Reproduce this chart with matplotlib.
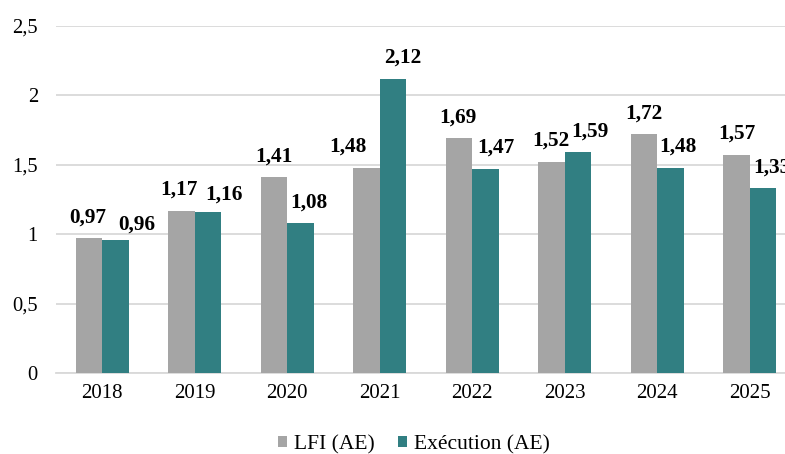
import matplotlib
matplotlib.use("Agg")
import matplotlib.pyplot as plt
import numpy as np

years = ["2018", "2019", "2020", "2021", "2022", "2023", "2024", "2025"]
lfi = [0.97, 1.17, 1.41, 1.48, 1.69, 1.52, 1.72, 1.57]
execution = [0.96, 1.16, 1.08, 2.12, 1.47, 1.59, 1.48, 1.33]
yticks = [0, 0.5, 1, 1.5, 2, 2.5]
ytick_labels = ["0", "0,5", "1", "1,5", "2", "2,5"]

# label nudges in pixels (layout only)
lfi_dx = [-1, -3, 0, -19, -1, -1, 0, 0]
exe_dx = [21, 16, 8, 10, 10, 12, 8, 9]
exe_dy = [-6, -4, 0, 0, 0, 0, 0, 0]

plt.rcParams['font.family'] = ['Liberation Serif', 'DejaVu Serif']

W, H = 785, 454
DPI = 100
fig = plt.figure(figsize=(W/DPI, H/DPI), dpi=DPI)
left, right, top, bottom = 56, 796, 26, 373
ax = fig.add_axes([left/W, 1-bottom/H, (right-left)/W, (bottom-top)/H])

x = np.arange(len(years))
bw = 0.285
gray = "#A5A5A5"
teal = "#317F82"
b1 = ax.bar(x - bw/2, lfi, bw, color=gray, label="LFI (AE)", zorder=3)
b2 = ax.bar(x + bw/2, execution, bw, color=teal, label="Exécution (AE)", zorder=3)

def fmt(v):
    return f"{v:.2f}".replace(".", ",")

px2pt = 72 / DPI
base_gap = 16
for bars, vals, dxs, dys in ((b1, lfi, lfi_dx, [0]*8), (b2, execution, exe_dx, exe_dy)):
    for b, v, dx, dy in zip(bars, vals, dxs, dys):
        ax.annotate(fmt(v), (b.get_x() + b.get_width()/2, v),
                    xytext=(dx*px2pt, (base_gap + dy)*px2pt),
                    textcoords="offset points", ha="center", va="baseline",
                    fontsize=15.3, fontweight="bold", zorder=4, annotation_clip=False)

ax.set_xlim(-0.5, len(years) - 0.5)
ax.set_ylim(0, 2.5)
ax.set_yticks(yticks)
ax.set_yticklabels(ytick_labels, fontsize=14.8)
ax.set_xticks(x)
ax.set_xticklabels(years, fontsize=15)
ax.yaxis.grid(True, color="#D9D9D9", linewidth=1.3, zorder=0)
ax.tick_params(axis='y', length=0, pad=13)
ax.tick_params(axis='x', length=0, pad=8)
for s in ["top", "right", "left"]:
    ax.spines[s].set_visible(False)
ax.spines["bottom"].set_color("#D9D9D9")
ax.spines["bottom"].set_linewidth(1.3)

fig.legend(handles=[b1, b2], loc="center", bbox_to_anchor=(414/W, 1-445/H), ncol=2,
           frameon=False, fontsize=15.5, handlelength=0.4, handleheight=0.4,
           handletextpad=0.33, columnspacing=1.1, borderpad=0)

fig.savefig("out.png", dpi=DPI)
